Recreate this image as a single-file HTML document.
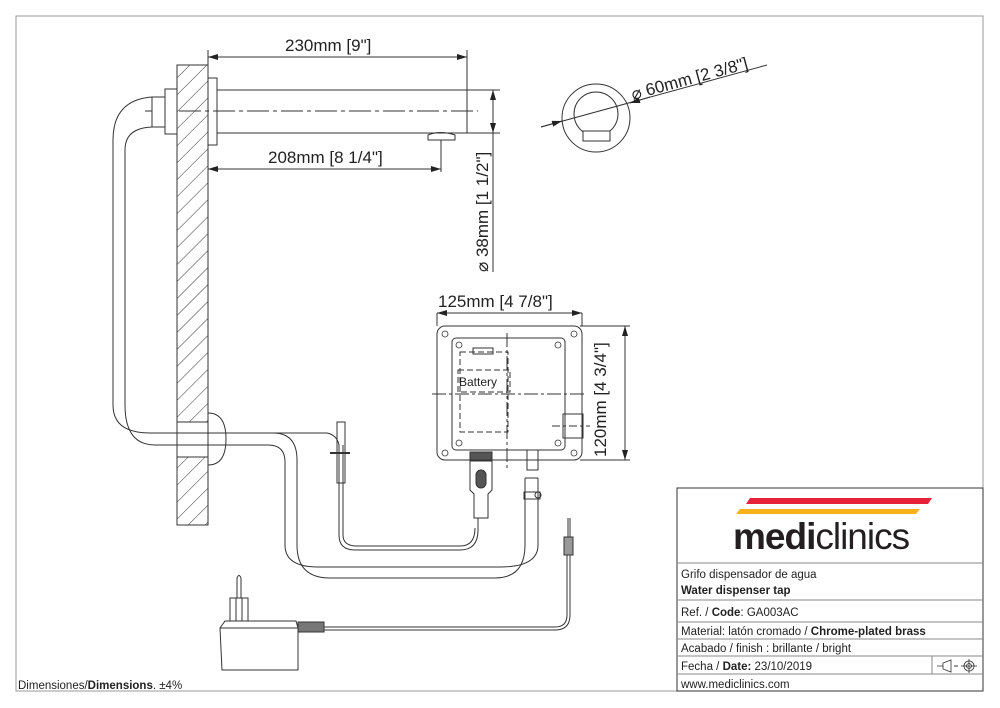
<!DOCTYPE html>
<html><head><meta charset="utf-8"><style>
body{margin:0;background:#fff}
svg{display:block}
text{font-family:"Liberation Sans",sans-serif;fill:#222}
</style></head><body>
<svg width="1000" height="708" viewBox="0 0 1000 708" xmlns="http://www.w3.org/2000/svg">
<defs>
<pattern id="h" width="12" height="12" patternUnits="userSpaceOnUse" patternTransform="rotate(45)">
<line x1="0" y1="0" x2="0" y2="12" stroke="#333" stroke-width="1"/></pattern>
<marker id="a" markerWidth="10" markerHeight="6" refX="10" refY="3" orient="auto-start-reverse"><path d="M0,0 L10,3 L0,6z" fill="#222"/></marker>
</defs>
<rect width="1000" height="708" fill="#fff"/>
<g fill="none" stroke="#333" stroke-width="1">
<rect x="177" y="65" width="31" height="357" fill="url(#h)"/>
<rect x="177" y="457" width="31" height="68" fill="url(#h)"/>
<line x1="177" y1="422" x2="177" y2="457"/><line x1="208" y1="422" x2="208" y2="457"/>
<rect x="208" y="78" width="9" height="67" fill="#fff"/>
<rect x="217" y="90" width="250" height="43" fill="#fff"/>
<path d="M428,140 L428,135 Q440,130 455,135 L455,140 Z"/>
<line x1="145" y1="111" x2="478" y2="111" stroke-dasharray="22,4,4,4"/>
<rect x="165" y="89" width="12" height="45" fill="#fff"/>
<rect x="152" y="97" width="13" height="30" fill="#fff"/>
<path d="M152,97 Q113,100 113,140 L113,405 Q113,433 150,433 L273,433 Q297,433 297,460 L297,545 Q297,578 330,578 L495,578 Q525,578 525,545 L525,478"/>
<path d="M152,127 Q125,128 125,150 L125,405 Q125,445 155,445 L268,445 Q285,445 285,462 L285,545 Q285,567 318,567 L500,567 Q538,567 538,545 L538,478"/>
<path d="M208,413 Q226,413 226,439 Q226,465 208,465"/>
<line x1="525" y1="478" x2="538" y2="478"/>
<rect x="524" y="492" width="16" height="7"/><circle cx="538" cy="495" r="3"/>
<rect x="527" y="450" width="11" height="20"/>
<path d="M226,433 L327,433 Q337,435 339,445 L339,535 Q339,550 355,550 L460,550 Q478,550 478,530 L478,518"/>
<path d="M343,445 L343,535 Q343,546 357,546 L460,546 Q475,546 475,528"/>
<rect x="337" y="422" width="8" height="61"/>
<line x1="330" y1="453" x2="350" y2="453" stroke-width="2"/>
<rect x="470" y="452" width="22" height="9" fill="#555"/>
<path d="M470,461 L470,490 L474,494 L474,518 L488,518 L488,494 L492,490 L492,461"/>
<rect x="476" y="470" width="10" height="18" rx="5" fill="#555"/>
<rect x="437" y="326" width="145" height="134" rx="8"/>
<rect x="452" y="338" width="113" height="112" rx="4"/>
<g stroke-width="0.8"><circle cx="445" cy="334" r="3"/><circle cx="574" cy="334" r="3"/><circle cx="445" cy="453" r="3"/><circle cx="574" cy="453" r="3"/>
<circle cx="459" cy="345" r="3"/><circle cx="558" cy="345" r="3"/><circle cx="459" cy="443" r="3"/><circle cx="558" cy="443" r="3"/></g>
<rect x="460" y="352" width="48" height="80" stroke-dasharray="6,3"/>
<rect x="458" y="370" width="52" height="22" stroke-dasharray="6,3"/>
<rect x="473" y="348" width="20" height="6"/>
<rect x="563" y="414" width="20" height="24"/>
<line x1="507" y1="333" x2="507" y2="470" stroke-dasharray="14,3,3,3"/>
<line x1="432" y1="394" x2="585" y2="394" stroke-dasharray="14,3,3,3"/>
<line x1="552" y1="426" x2="590" y2="426" stroke-dasharray="8,3,3,3"/>
<line x1="437" y1="313" x2="437" y2="326"/><line x1="582" y1="313" x2="582" y2="326"/>
<line x1="437" y1="313" x2="582" y2="313" marker-start="url(#a)" marker-end="url(#a)"/>
<line x1="580" y1="326" x2="630" y2="326"/><line x1="580" y1="460" x2="630" y2="460"/>
<line x1="625" y1="326" x2="625" y2="460" marker-start="url(#a)" marker-end="url(#a)"/>
<line x1="208" y1="50" x2="208" y2="78"/><line x1="467" y1="50" x2="467" y2="90"/>
<line x1="208" y1="57" x2="467" y2="57" marker-start="url(#a)" marker-end="url(#a)"/>
<line x1="441" y1="140" x2="441" y2="172"/>
<line x1="208" y1="169" x2="441" y2="169" marker-start="url(#a)" marker-end="url(#a)"/>
<line x1="467" y1="90" x2="500" y2="90"/><line x1="467" y1="133" x2="500" y2="133"/>
<line x1="493" y1="90" x2="493" y2="133" marker-start="url(#a)" marker-end="url(#a)"/>
<line x1="493" y1="133" x2="493" y2="272"/>
<circle cx="596" cy="118" r="34"/><circle cx="596" cy="114" r="22"/>
<rect x="583" y="131" width="27" height="10" fill="#fff"/>
<line x1="541" y1="127" x2="767" y2="65"/>
<line x1="541" y1="127" x2="562" y2="121" marker-end="url(#a)"/>
<line x1="650" y1="97" x2="630" y2="103" marker-end="url(#a)"/>
<path d="M220,628 L225,621 L296,621 L298,628 L298,670 L222,670 Z"/>
<line x1="220" y1="628" x2="298" y2="628"/>
<rect x="230" y="598" width="18" height="23"/><line x1="236" y1="598" x2="236" y2="621"/><line x1="242" y1="598" x2="242" y2="621"/>
<path d="M237,598 L237,578 Q239,573 241,578 L241,598"/>
<rect x="298" y="622" width="26" height="10" fill="#777"/>
<path d="M324,627 L555,627 Q567,627 567,615 L567,552"/>
<path d="M324,630 L555,630 Q570,630 570,615 L570,552"/>
<rect x="564" y="537" width="9" height="18" fill="#999"/>
<line x1="568" y1="518" x2="568" y2="537"/><line x1="570" y1="518" x2="570" y2="537"/>
<rect x="16" y="16" width="967" height="675" stroke="#999"/>
<rect x="677" y="488" width="306" height="203" fill="#fff"/>
<g stroke="#888"><line x1="677" y1="563" x2="983" y2="563"/><line x1="677" y1="600" x2="983" y2="600"/>
<line x1="677" y1="622" x2="983" y2="622"/><line x1="677" y1="639" x2="983" y2="639"/>
<line x1="677" y1="656" x2="983" y2="656"/><line x1="677" y1="674" x2="983" y2="674"/>
<line x1="932" y1="656" x2="932" y2="674"/></g>
<path d="M943,663 L951,660 L951,672 L943,669 Z M937,666 L943,666" stroke-width="0.8"/>
<line x1="954" y1="666" x2="958" y2="666"/>
<circle cx="969" cy="666" r="5" stroke-width="0.8"/><circle cx="969" cy="666" r="2.5" stroke-width="0.8"/>
<line x1="961" y1="666" x2="977" y2="666" stroke-width="0.8"/><line x1="969" y1="659" x2="969" y2="673" stroke-width="0.8"/>
</g>
<polygon points="750,498 932,498 928,504 746,504" fill="#e8213a"/>
<polygon points="740,509 920,509 916,514 736,514" fill="#f5b21c"/>
<text x="733" y="549" font-size="37" letter-spacing="-1"><tspan font-weight="bold" fill="#231f20">medi</tspan><tspan fill="#231f20">clinics</tspan></text>
<g font-size="11.5">
<text x="681" y="578">Grifo dispensador de agua</text>
<text x="681" y="594" font-weight="bold">Water dispenser tap</text>
<text x="681" y="616">Ref. / <tspan font-weight="bold">Code</tspan>: GA003AC</text>
<text x="681" y="635">Material: latón cromado / <tspan font-weight="bold">Chrome-plated brass</tspan></text>
<text x="681" y="652">Acabado / finish : brillante / bright</text>
<text x="681" y="670">Fecha / <tspan font-weight="bold">Date:</tspan> 23/10/2019</text>
<text x="681" y="688">www.mediclinics.com</text>
<text x="18" y="689">Dimensiones/<tspan font-weight="bold">Dimensions</tspan>. ±4%</text>
</g>
<g font-size="17">
<text x="285" y="51">230mm [9"]</text>
<text x="268" y="163">208mm [8 1/4"]</text>
<text x="438" y="307">125mm [4 7/8"]</text>
<text transform="translate(488,272) rotate(-90)">⌀ 38mm [1 1/2"]</text>
<text transform="translate(606,457) rotate(-90)">120mm [4 3/4"]</text>
<text transform="translate(633,100) rotate(-15.3)">⌀ 60mm [2 3/8"]</text>
</g>
<text x="459" y="386" font-size="12">Battery</text>
</svg>
</body></html>
